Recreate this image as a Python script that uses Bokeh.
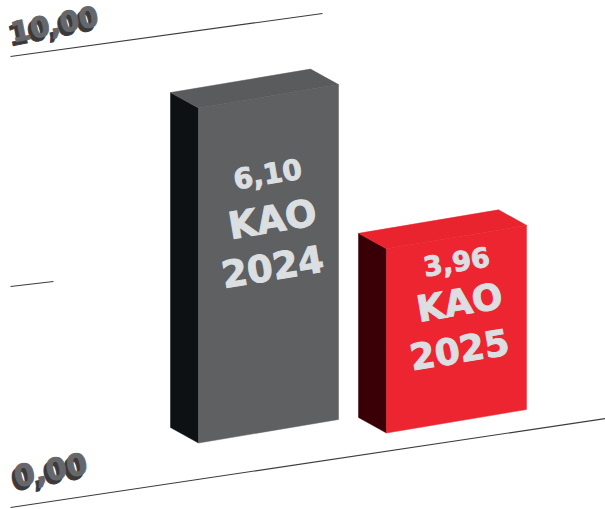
from bokeh.plotting import figure
from bokeh.models import Range1d
from bokeh.core.properties import value
from bokeh.embed import file_html
from bokeh.resources import INLINE

# ---- data ----
years = ["2024", "2025"]
kao_values = [6.10, 3.96]
value_labels = ["6,10", "3,96"]
grid_values = [0, 5, 10]
axis_labels = ["0,00", "10,00"]

# ---- projection of the pictorial 3D scene (reference picture pixels) ----
bar_left = [170, 358]
bar_base = [427, 417]
bar_px_per_unit = [54.9, 46.5]   # the drawing's bars are not to one common scale
front_w, front_rise = 140, 23.5
depth_w, depth_drop = 28, 15.5

grid_x0 = [10, 10, 10]
grid_y0 = [507, 286, 56]
grid_x1 = [605, 53, 322]
grid_y1 = [418, 281, 13]

bar_colors = [
    dict(front="#5f6062", side="#0e1114", top="#5a5b5d"),
    dict(front="#ec2530", side="#380006", top="#e9242f"),
]
TEXT = "#dcdfe1"
FONT = value("DejaVu Sans")

p = figure(width=605, height=509, output_backend="svg", toolbar_location=None,
           x_range=Range1d(0, 605), y_range=Range1d(509, 0),
           min_border=0, background_fill_color="white",
           border_fill_color="white", outline_line_color=None)
p.axis.visible = False
p.grid.visible = False

# gridlines
p.segment(grid_x0, grid_y0, grid_x1, grid_y1, line_color="#3c3c3e", line_width=1.1)

# bars
for i, v in enumerate(kao_values):
    h = v * bar_px_per_unit[i]
    x0, y0 = bar_left[i], bar_base[i]
    x1, y1 = x0 + depth_w, y0 + depth_drop
    x2, y2 = x1 + front_w, y1 - front_rise
    c = bar_colors[i]
    p.patch([x0, x1, x1, x0], [y0, y1, y1 - h, y0 - h],
            fill_color=c["side"], line_color=c["side"], line_width=0.5)
    p.patch([x1, x2, x2, x1], [y1, y2, y2 - h, y1 - h],
            fill_color=c["front"], line_color=c["front"], line_width=0.5)
    p.patch([x0, x1, x2, x2 - depth_w],
            [y0 - h, y1 - h, y2 - h, y2 - h - depth_drop],
            fill_color=c["top"], line_color=c["top"], line_width=0.5)

def tx(x, y, s, size, color=TEXT, angle=9.5):
    p.text([x], [y], text=[s], text_font=FONT, text_font_style="bold",
           text_font_size=f"{size}px", text_color=color, text_outline_color=color,
           text_align="center", text_baseline="middle", angle=angle, angle_units="deg")

label_x = [[267, 272, 272], [456, 459, 459]]
label_y = [[173, 219, 266], [261, 302, 349]]
label_sz = [[28, 37, 37], [27, 36, 36]]
for i, yr in enumerate(years):
    lines = [value_labels[i], "KAO", yr]
    for j, s in enumerate(lines):
        tx(label_x[i][j], label_y[i][j], s, label_sz[i][j])

axis_x = [49, 53]
axis_y = [470, 24]
axis_sz = [30, 28]
for s, x, y, sz in zip(axis_labels, axis_x, axis_y, axis_sz):
    tx(x - 2, y + 3, s, sz, color="#3a3a3c", angle=11)
    tx(x + 1, y - 1, s, sz, color="#66676a", angle=11)

open("out.html", "w").write(file_html(p, INLINE))
